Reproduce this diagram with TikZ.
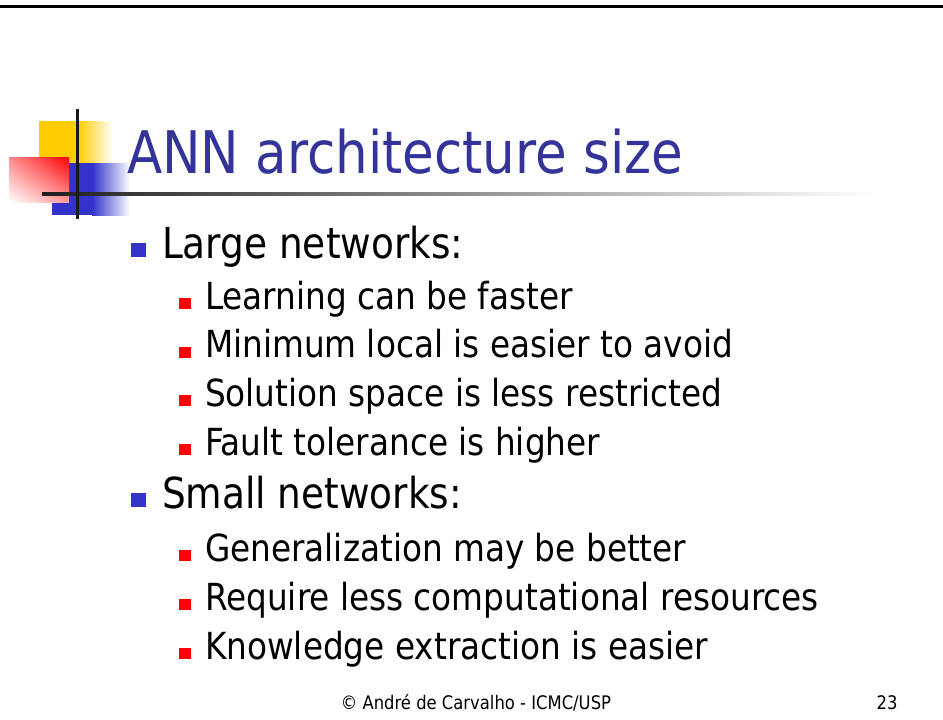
\documentclass[tikz,border=0pt]{standalone}
\usepackage{fontspec}
\usetikzlibrary{shadings}
\setmainfont{DejaVu Sans}[FakeStretch=0.877]
\definecolor{titleblue}{RGB}{51,51,153}
\definecolor{bulblue}{RGB}{51,51,204}
\definecolor{decoyellow}{RGB}{255,204,0}
\definecolor{decoblue}{RGB}{51,51,204}
\definecolor{decored}{RGB}{255,0,0}
\tikzset{
  lvlA/.style={anchor=base west, inner sep=0pt, outer sep=0pt, font=\fontsize{42.7}{50}\selectfont},
  lvlB/.style={anchor=base west, inner sep=0pt, outer sep=0pt, font=\fontsize{37.3}{44}\selectfont},
  bulA/.style={fill=bulblue, draw=none, minimum width=15pt, minimum height=14pt, inner sep=0pt},
  bulB/.style={fill=decored, draw=none, minimum width=12pt, minimum height=11pt, inner sep=0pt},
  foot/.style={anchor=base, inner sep=0pt, font=\fontsize{18.7}{22}\selectfont},
}
\begin{document}
\begin{tikzpicture}[x=1pt,y=-1pt]
\useasboundingbox (0,0) rectangle (943,720);
\fill[white] (0,0) rectangle (943,720);
% top rule
\fill[black] (0,5) rectangle (943,7.5);
% decoration
\fill[decoyellow] (39,121) rectangle (78.5,165);
\shade[left color=decoyellow, right color=white] (78,121) rectangle (113,165);
\fill[decoblue] (52,163) rectangle (92.5,215);
\shade[left color=decoblue, right color=white] (92,163) rectangle (130,215);
\shade[upper right=decored, upper left=decored!45, lower right=decored!40, lower left=white] (9,157) rectangle (69,202);
\shade[left color=black!88, right color=white] (42,192.5) rectangle (872,195.5);
\fill[black!90] (75.5,109) rectangle (78.5,219);
% title
\node[anchor=base west, inner sep=0pt, text=titleblue, font=\fontsize{58.7}{66}\selectfont] (title) at (127,173) {ANN architecture size};
% level 1 and 2
\node[bulA] (b1) at (138.5,250) {};
\node[lvlA] (t1) at (162,258) {Large networks:};
\node[bulB] (b11) at (185,303.5) {};
\node[lvlB] (t11) at (205,309) {Learning can be faster};
\node[bulB] (b12) at (185,352) {};
\node[lvlB] (t12) at (205,357.5) {Minimum local is easier to avoid};
\node[bulB] (b13) at (185,400.5) {};
\node[lvlB] (t13) at (205,406) {Solution space is less restricted};
\node[bulB] (b14) at (185,449.5) {};
\node[lvlB] (t14) at (205,455) {Fault tolerance is higher};
\node[bulA] (b2) at (138.5,500) {};
\node[lvlA] (t2) at (162,508) {Small networks:};
\node[bulB] (b21) at (185,555.5) {};
\node[lvlB] (t21) at (205,561) {Generalization may be better};
\node[bulB] (b22) at (185,604.5) {};
\node[lvlB] (t22) at (205,610) {Require less computational resources};
\node[bulB] (b23) at (185,653.5) {};
\node[lvlB] (t23) at (205,659) {Knowledge extraction is easier};
% footer
\node[foot] (foot) at (476,709) {© André de Carvalho - ICMC/USP};
\node[foot] (page) at (887,709) {23};
\end{tikzpicture}
\end{document}
